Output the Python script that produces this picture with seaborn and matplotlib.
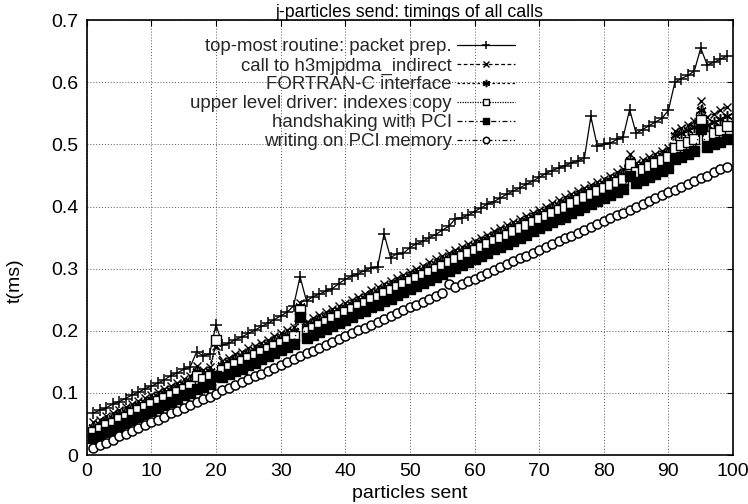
import matplotlib
matplotlib.use("Agg")
import matplotlib.pyplot as plt
import seaborn as sns
import pandas as pd
from matplotlib.ticker import FuncFormatter

particles = list(range(1, 100))

packet_prep = [0.068, 0.072, 0.076, 0.082, 0.086, 0.091, 0.097, 0.101, 0.107, 0.111,
               0.116, 0.121, 0.128, 0.132, 0.138, 0.142, 0.166, 0.160, 0.163, 0.210,
               0.177, 0.180, 0.186, 0.190, 0.196, 0.201, 0.207, 0.212, 0.218, 0.224,
               0.230, 0.240, 0.287, 0.248, 0.255, 0.259, 0.264, 0.268, 0.276, 0.283,
               0.288, 0.292, 0.297, 0.301, 0.303, 0.356, 0.318, 0.324, 0.325, 0.334,
               0.340, 0.344, 0.350, 0.355, 0.362, 0.368, 0.380, 0.382, 0.386, 0.392,
               0.398, 0.404, 0.408, 0.414, 0.420, 0.425, 0.430, 0.436, 0.441, 0.447,
               0.453, 0.458, 0.462, 0.466, 0.470, 0.474, 0.478, 0.545, 0.497, 0.500,
               0.502, 0.508, 0.512, 0.556, 0.518, 0.524, 0.530, 0.536, 0.542, 0.555,
               0.600, 0.606, 0.611, 0.618, 0.655, 0.628, 0.632, 0.637, 0.642]

h3mjpdma = [0.053, 0.057, 0.063, 0.067, 0.073, 0.077, 0.082, 0.087, 0.092, 0.097,
            0.102, 0.107, 0.112, 0.116, 0.122, 0.127, 0.143, 0.137, 0.142, 0.176,
            0.152, 0.157, 0.162, 0.166, 0.172, 0.176, 0.181, 0.186, 0.191, 0.196,
            0.201, 0.206, 0.245, 0.215, 0.220, 0.225, 0.230, 0.235, 0.240, 0.245,
            0.250, 0.255, 0.260, 0.266, 0.270, 0.276, 0.280, 0.285, 0.290, 0.295,
            0.300, 0.305, 0.310, 0.315, 0.320, 0.325, 0.330, 0.335, 0.340, 0.345,
            0.350, 0.355, 0.360, 0.365, 0.370, 0.375, 0.380, 0.385, 0.390, 0.395,
            0.400, 0.405, 0.410, 0.415, 0.420, 0.425, 0.430, 0.435, 0.440, 0.445,
            0.450, 0.455, 0.460, 0.484, 0.470, 0.475, 0.480, 0.485, 0.490, 0.494,
            0.522, 0.527, 0.532, 0.537, 0.570, 0.544, 0.549, 0.555, 0.560]

fortran_c = [0.046, 0.050, 0.056, 0.060, 0.066, 0.070, 0.075, 0.080, 0.085, 0.090,
             0.095, 0.100, 0.105, 0.109, 0.115, 0.120, 0.135, 0.130, 0.135, 0.180,
             0.145, 0.150, 0.155, 0.159, 0.165, 0.169, 0.174, 0.179, 0.184, 0.189,
             0.194, 0.199, 0.240, 0.208, 0.213, 0.218, 0.223, 0.228, 0.233, 0.238,
             0.243, 0.248, 0.253, 0.259, 0.263, 0.269, 0.273, 0.278, 0.283, 0.288,
             0.293, 0.298, 0.303, 0.308, 0.313, 0.318, 0.323, 0.328, 0.333, 0.338,
             0.343, 0.348, 0.353, 0.358, 0.363, 0.368, 0.373, 0.378, 0.383, 0.388,
             0.393, 0.398, 0.403, 0.408, 0.413, 0.418, 0.423, 0.428, 0.433, 0.438,
             0.443, 0.448, 0.453, 0.475, 0.463, 0.468, 0.473, 0.478, 0.483, 0.487,
             0.515, 0.519, 0.524, 0.528, 0.556, 0.532, 0.536, 0.541, 0.545]

indexes_copy = [0.038, 0.042, 0.048, 0.052, 0.058, 0.062, 0.067, 0.072, 0.077, 0.082,
                0.087, 0.092, 0.097, 0.101, 0.107, 0.112, 0.127, 0.122, 0.127, 0.186,
                0.137, 0.142, 0.147, 0.151, 0.157, 0.161, 0.166, 0.171, 0.176, 0.181,
                0.186, 0.191, 0.233, 0.200, 0.205, 0.210, 0.215, 0.220, 0.225, 0.230,
                0.235, 0.240, 0.245, 0.251, 0.255, 0.261, 0.265, 0.270, 0.275, 0.280,
                0.285, 0.290, 0.295, 0.300, 0.305, 0.310, 0.315, 0.320, 0.325, 0.330,
                0.335, 0.340, 0.345, 0.350, 0.355, 0.360, 0.365, 0.370, 0.375, 0.380,
                0.385, 0.390, 0.395, 0.400, 0.405, 0.410, 0.415, 0.420, 0.425, 0.430,
                0.435, 0.440, 0.445, 0.468, 0.455, 0.460, 0.465, 0.470, 0.475, 0.479,
                0.494, 0.499, 0.504, 0.509, 0.540, 0.514, 0.519, 0.524, 0.529]

handshaking = [0.027, 0.031, 0.037, 0.041, 0.047, 0.051, 0.056, 0.061, 0.066, 0.071,
               0.076, 0.081, 0.086, 0.090, 0.096, 0.100, 0.106, 0.110, 0.115, 0.128,
               0.125, 0.130, 0.135, 0.139, 0.145, 0.149, 0.154, 0.159, 0.164, 0.169,
               0.174, 0.179, 0.222, 0.188, 0.193, 0.198, 0.203, 0.208, 0.213, 0.218,
               0.223, 0.228, 0.232, 0.238, 0.242, 0.248, 0.252, 0.257, 0.262, 0.267,
               0.272, 0.277, 0.282, 0.286, 0.291, 0.296, 0.301, 0.306, 0.311, 0.316,
               0.321, 0.326, 0.331, 0.335, 0.340, 0.345, 0.350, 0.355, 0.360, 0.365,
               0.370, 0.375, 0.380, 0.384, 0.389, 0.394, 0.399, 0.404, 0.409, 0.414,
               0.419, 0.424, 0.429, 0.450, 0.438, 0.443, 0.448, 0.453, 0.458, 0.462,
               0.476, 0.480, 0.485, 0.490, 0.525, 0.496, 0.500, 0.504, 0.509]

pci_memory = [0.011, 0.016, 0.020, 0.025, 0.030, 0.034, 0.039, 0.044, 0.048, 0.053,
              0.057, 0.062, 0.067, 0.071, 0.076, 0.081, 0.085, 0.090, 0.094, 0.099,
              0.104, 0.108, 0.113, 0.117, 0.122, 0.127, 0.131, 0.136, 0.141, 0.145,
              0.150, 0.154, 0.159, 0.164, 0.168, 0.173, 0.178, 0.182, 0.187, 0.191,
              0.196, 0.201, 0.205, 0.210, 0.215, 0.219, 0.224, 0.228, 0.233, 0.238,
              0.242, 0.247, 0.251, 0.256, 0.261, 0.276, 0.270, 0.275, 0.280, 0.284,
              0.289, 0.293, 0.298, 0.303, 0.307, 0.312, 0.317, 0.321, 0.326, 0.330,
              0.335, 0.340, 0.344, 0.349, 0.353, 0.358, 0.363, 0.367, 0.372, 0.377,
              0.381, 0.386, 0.390, 0.395, 0.400, 0.404, 0.409, 0.414, 0.418, 0.423,
              0.427, 0.432, 0.437, 0.441, 0.446, 0.450, 0.455, 0.460, 0.464]

labels = ["top-most routine: packet prep.",
          "call to h3mjpdma_indirect",
          "FORTRAN-C interface",
          "upper level driver: indexes copy",
          "handshaking with PCI",
          "writing on PCI memory"]
series = [packet_prep, h3mjpdma, fortran_c, indexes_copy, handshaking, pci_memory]

x_ticks = [0, 10, 20, 30, 40, 50, 60, 70, 80, 90, 100]
y_ticks = [0, 0.1, 0.2, 0.3, 0.4, 0.5, 0.6, 0.7]

sns.set_theme(style="white")
plt.rcParams['font.family'] = ['Liberation Sans', 'DejaVu Sans']

styles = [
    dict(linestyle='-', marker='+', ms=9, mew=1.1, mfc='black'),
    dict(linestyle=(0, (3, 2)), marker='x', ms=5.5, mew=1.0, mfc='black'),
    dict(linestyle=(0, (2, 2)), marker=(6, 2, 0), ms=7.5, mew=1.1, mfc='black'),
    dict(linestyle=(0, (1, 1)), marker='s', ms=6.5, mew=1.0, mfc='white'),
    dict(linestyle=(0, (4, 2, 1, 2)), marker='s', ms=7, mew=1.0, mfc='black'),
    dict(linestyle=(0, (4, 2, 1, 2, 1, 2)), marker='o', ms=6.5, mew=1.1, mfc='white'),
]

fig = plt.figure(figsize=(7.48, 5.04), dpi=100)
ax = fig.add_axes([0.116, 0.097, 0.864, 0.863])

for lab, vals, st in zip(labels, series, styles):
    df = pd.DataFrame({"particles sent": particles, "t(ms)": vals})
    sns.lineplot(data=df, x="particles sent", y="t(ms)", ax=ax, color='black',
                 lw=0.9, mec='black', label=lab, **st)

ax.set_xlim(0, 100)
ax.set_ylim(0, 0.7)
ax.set_xticks(x_ticks)
ax.set_yticks(y_ticks)
ax.yaxis.set_major_formatter(FuncFormatter(lambda v, p: f"{v:g}"))
ax.tick_params(direction='in', length=4, width=0.8, top=True, right=True,
               labelsize=14, colors='black', pad=6)
ax.grid(True, color='#555555', linestyle=(0, (1, 2)), linewidth=0.7)
for s in ax.spines.values():
    s.set_color('black')
    s.set_linewidth(1.2)

ax.set_title("j-particles send: timings of all calls", fontsize=12.8, pad=2, color='black')
ax.set_xlabel("particles sent", fontsize=14, labelpad=3, color='black')
ax.set_ylabel("t(ms)", fontsize=14, color='black')
ax.yaxis.set_label_coords(-0.098, 0.4)

leg = ax.legend(loc='upper right', bbox_to_anchor=(0.6625, 0.958), frameon=False,
                markerfirst=False, fontsize=13.4, handlelength=3.1, handletextpad=0.3,
                labelspacing=0.1, borderpad=0, borderaxespad=0, markerscale=0.7)

fig.savefig("out.png", dpi=100)
